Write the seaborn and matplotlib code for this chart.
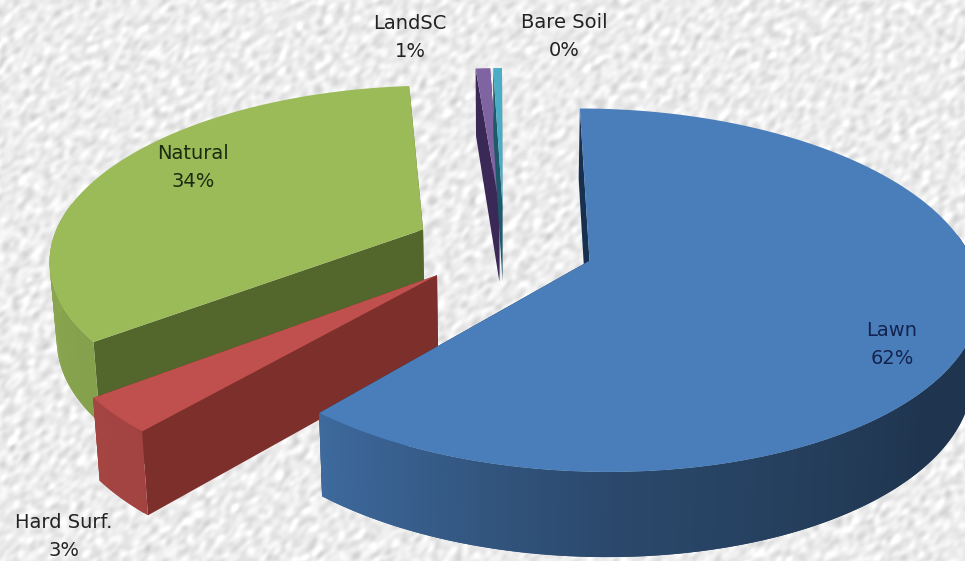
import numpy as np
import matplotlib
matplotlib.use("Agg")
import matplotlib.pyplot as plt
import seaborn as sns

# slice order as in the source sheet, clockwise from 12 o'clock
labels = ["Lawn", "Hard Surf.", "Natural", "LandSC", "Bare Soil"]
pct_labels = ["62%", "3%", "34%", "1%", "0%"]
shares = [61.2, 3.2, 34.25, 0.75, 0.45]

top_colors = ["#4a7ebb", "#c0504d", "#9bbb59", "#8064a2", "#4bacc6"]
face_colors = ["#17304f", "#7d2f2c", "#53662b", "#3a2856", "#1f5a6b"]
text_colors = ["#14234f", "#222222", "#1c2a10", "#222222", "#222222"]
label_pos = [(892, 344), (64, 536), (193, 167), (410, 37), (564, 36)]

# projection of the pie plane to the picture
X0, Y0 = 504, 246
A, B, P, Q = 375, 172, 0.16, 0.005
EXPLODE = 0.24
START = 0.4

sns.set_theme(style="white")
plt.rcParams["font.family"] = ["DejaVu Sans"]


def project(u, v):
    w = 1 + P * v - Q * u
    return X0 + A * u / w, Y0 - B * v / w


def drop(x, v):
    # the bottom plane sits a bit further away from the camera
    return x + (X0 - x) * 0.016, 77 - 7.5 * v


def shade(color, f):
    return tuple(np.array(matplotlib.colors.to_rgb(color)) * f)


fig, ax = plt.subplots(figsize=(9.65, 5.61), dpi=100)
fig.subplots_adjust(0, 0, 1, 1)

# speckled paper background, band-passed noise
rng = np.random.default_rng(7)
noise = rng.normal(size=(561, 965))
f = np.fft.fft2(noise)
fy = np.fft.fftfreq(561)[:, None]
fx = np.fft.fftfreq(965)[None, :]
f *= np.exp(-((fx - fy) ** 2 * 110 + (fx + fy) ** 2 * 45)) * (1 - np.exp(-(fx ** 2 + fy ** 2) * 600))
tex = np.fft.ifft2(f).real
tex = 236 + tex / tex.std() * 8
ax.imshow(np.clip(tex, 0, 255), cmap="gray", vmin=0, vmax=255, extent=(0, 965, 561, 0), aspect="auto", zorder=0)

edges = START + np.cumsum([0] + shares) * 3.6
mids = (edges[:-1] + edges[1:]) / 2

draw_order = [2, 3, 4, 1, 0]
z = 1
for i in draw_order:
    n = max(4, int((edges[i + 1] - edges[i]) * 1.5))
    th = np.radians(np.linspace(edges[i], edges[i + 1], n))
    m = np.radians(mids[i])
    cu, cv = EXPLODE * np.sin(m), EXPLODE * np.cos(m)
    u = cu + np.sin(th)
    v = cv + np.cos(th)
    x, y = project(u, v)
    ax_, ay_ = project(cu, cv)

    # flat cut faces, the far one first
    for k in [-1, 0]:
        bx0, dy0 = drop(ax_, cv)
        bx1, dy1 = drop(x[k], v[k])
        ax.fill([ax_, x[k], bx1, bx0], [ay_, y[k], y[k] + dy1, ay_ + dy0],
                color=face_colors[i], lw=0, zorder=z)
        z += 1

    # rim, only the part that faces the viewer. each quad runs under the next
    # one so no seams show between them
    deg = np.degrees(th)
    rim = [j for j in range(n - 1) if np.cos(th[j]) <= 0.15]
    for j in rim:
        g = np.interp(deg[j], [90, 130, 180, 222, 280], [0.42, 0.42, 0.58, 0.85, 0.9])
        j2 = min(j + 2, n - 1)
        bx, dy = drop(x[[j, j2]], v[[j, j2]])
        ax.fill([x[j], x[j2], bx[1], bx[0]],
                [y[j], y[j2], y[j2] + dy[1], y[j] + dy[0]],
                color=shade(top_colors[i], g), lw=0, zorder=z)
        z += 1

    ax.fill(np.r_[ax_, x], np.r_[ay_, y], color=top_colors[i], lw=0, zorder=z)
    z += 1

for name, pct, col, pos in zip(labels, pct_labels, text_colors, label_pos):
    ax.text(pos[0], pos[1], name + "\n" + pct, color=col, fontsize=14, ha="center", va="center",
            linespacing=1.6, zorder=z)

ax.set_xlim(0, 965)
ax.set_ylim(561, 0)
ax.set_xticks([])
ax.set_yticks([])
sns.despine(ax=ax, left=True, bottom=True)

fig.savefig("out.png", dpi=100)
